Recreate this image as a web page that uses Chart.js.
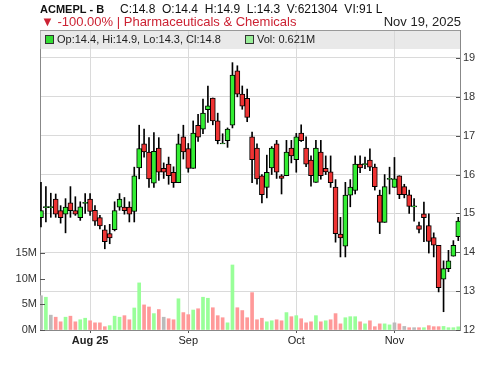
<!DOCTYPE html>
<html>
<head>
<meta charset="utf-8">
<script src="https://cdn.jsdelivr.net/npm/chart.js@4.4.0/dist/chart.umd.min.js"></script>
<style>
  body { margin: 0; background: #fff; }
  canvas { display: block; }
</style>
</head>
<body>
<canvas id="chart" width="500" height="366"></canvas>
<script>
// quote header
const ticker = 'ACMEPL - B';
const quoteLine = 'C:14.8  O:14.4  H:14.9  L:14.3  V:621304  VI:91 L';
const changeLine = '\u25BC -100.00% | Pharmaceuticals & Chemicals';
const quoteDate = 'Nov 19, 2025';
const legendOhlc = 'Op:14.4, Hi:14.9, Lo:14.3, Cl:14.8';
const legendVol = 'Vol: 0.621M';

// x axis: bar index of each month start
const monthTickIndex = [10, 30, 52, 72];
const monthTickLabels = ['Aug 25', 'Sep', 'Oct', 'Nov'];
const priceTicks = [12, 13, 14, 15, 16, 17, 18, 19];
const volTicks = [0, 5, 10, 15];

const open = [
  14.89, 15.16, 15.16, 15.37, 15.07, 14.98, 15.27, 15.07, 14.89, 15.27,
  15.37, 15.08, 14.89, 14.58, 14.48, 14.58, 15.16, 15.16, 15.16, 15.05,
  16.17, 16.79, 16.58, 15.78, 16.68, 16.16, 16.27, 16.06, 15.79, 16.97,
  16.67, 16.16, 17.27, 17.17, 17.67, 17.97, 17.38, 16.80, 16.87, 17.27,
  18.67, 18.07, 17.96, 16.97, 16.68, 15.97, 15.67, 16.17, 16.79, 15.97,
  15.97, 16.68, 16.38, 17.07, 16.68, 16.37, 15.80, 16.58, 16.16, 16.07,
  15.68, 14.47, 14.16, 15.47, 15.59, 16.27, 16.27, 16.37, 16.19, 15.47,
  14.77, 15.89, 15.67, 15.97, 15.69, 15.48, 15.18, 14.69, 14.99, 14.69,
  14.38, 14.18, 13.31, 13.58, 13.90, 14.40
];
const high = [
  15.80, 15.69, 15.52, 15.50, 15.20, 15.38, 15.69, 15.43, 15.30, 15.51,
  15.51, 15.20, 14.95, 14.69, 14.72, 15.30, 15.51, 15.41, 15.30, 16.19,
  17.27, 17.17, 16.95, 17.08, 16.95, 16.30, 16.45, 16.20, 17.04, 17.27,
  16.80, 17.38, 17.55, 17.94, 18.28, 17.97, 17.58, 17.05, 17.20, 18.88,
  18.80, 18.28, 18.20, 17.09, 16.79, 16.00, 16.50, 16.72, 16.88, 16.00,
  16.88, 16.88, 17.06, 17.28, 16.97, 16.48, 16.88, 16.88, 16.48, 16.48,
  15.87, 14.90, 15.80, 15.87, 16.48, 16.48, 16.45, 16.66, 16.27, 15.60,
  16.00, 16.19, 16.44, 15.97, 15.75, 15.60, 15.38, 14.78, 15.29, 14.99,
  14.50, 14.18, 13.78, 14.05, 14.30, 14.90
];
const low = [
  14.65, 14.78, 14.90, 14.90, 14.75, 14.50, 14.90, 14.95, 14.82, 15.00,
  14.95, 14.69, 14.60, 14.09, 14.22, 14.55, 15.08, 14.98, 14.78, 14.78,
  15.89, 16.45, 15.67, 15.67, 15.85, 15.90, 15.75, 15.67, 15.79, 16.40,
  16.06, 16.16, 16.85, 17.05, 17.34, 17.28, 16.79, 16.80, 16.70, 17.20,
  18.00, 17.68, 17.36, 15.79, 15.75, 15.27, 15.40, 16.00, 15.90, 15.50,
  15.97, 16.30, 16.06, 16.85, 16.20, 15.70, 15.80, 15.88, 16.00, 15.67,
  14.26, 13.88, 13.88, 15.17, 15.50, 16.05, 16.15, 16.10, 15.60, 14.48,
  14.77, 15.50, 15.67, 15.38, 15.40, 15.00, 14.80, 14.50, 14.27, 13.98,
  13.88, 12.98, 12.47, 13.50, 13.90, 14.30
];
const close = [
  15.07, 15.16, 15.16, 14.98, 14.89, 15.16, 15.07, 14.98, 15.17, 15.27,
  15.05, 14.80, 14.68, 14.27, 14.37, 15.07, 15.37, 15.07, 14.98, 15.97,
  16.67, 16.58, 15.89, 16.60, 16.06, 16.06, 15.97, 15.79, 16.79, 16.58,
  16.16, 17.07, 16.96, 17.58, 17.77, 17.38, 16.87, 16.80, 17.17, 18.56,
  18.07, 17.76, 17.47, 16.38, 15.89, 15.48, 16.06, 16.68, 16.06, 15.90,
  16.58, 16.48, 16.97, 16.87, 16.27, 15.97, 16.68, 15.97, 16.07, 15.79,
  14.48, 14.37, 15.47, 15.68, 16.27, 16.17, 16.27, 16.19, 15.69, 14.77,
  15.69, 15.89, 15.89, 15.48, 15.48, 15.18, 15.18, 14.59, 14.89, 14.28,
  14.18, 13.09, 13.58, 13.78, 14.18, 14.80
];
// volume in millions
const volume = [
  6.7, 6.4, 2.9, 2.5, 1.6, 2.5, 2.7, 1.6, 2.0, 2.3,
  1.8, 1.4, 1.4, 0.65, 0.85, 2.7, 2.5, 2.8, 2.0, 4.3,
  9.2, 4.9, 4.5, 3.2, 4.0, 2.5, 2.2, 2.0, 6.1, 3.4,
  3.0, 3.9, 4.15, 6.4, 6.2, 4.35, 2.8, 2.4, 1.4, 12.7,
  4.35, 3.8, 2.4, 7.3, 2.0, 2.3, 1.6, 1.8, 2.0, 1.8,
  3.4, 2.6, 2.8, 2.2, 1.4, 1.6, 2.8, 1.6, 1.8, 2.0,
  3.2, 1.2, 2.4, 2.6, 2.6, 1.6, 1.2, 1.8, 0.65, 1.2,
  1.2, 1.0, 1.4, 1.2, 0.7, 0.45, 0.45, 0.45, 0.45, 0.85,
  0.65, 0.65, 0.7, 0.45, 0.45, 0.621
];

const UP = '#33ee33', DOWN = '#ee3333';
const VOL_UP = '#99ff99', VOL_DOWN = '#ff9999', VOL_FLAT = '#bbbbbb';
const FONT = '"Liberation Sans", Arial, sans-serif';

Chart.defaults.font.family = FONT;
Chart.defaults.font.size = 11;
Chart.defaults.color = '#333';

const idx = close.map((_, i) => i);

// doji get a hairline body so they still show as a dash
const bodies = idx.map(i => {
  let a = Math.min(open[i], close[i]), b = Math.max(open[i], close[i]);
  if (b - a < 0.02) { a -= 0.013; b += 0.013; }
  return { x: i, y: [a, b] };
});
const volColors = idx.map(i => {
  if (i === 0 || close[i] === close[i - 1]) return VOL_FLAT;
  return close[i] > close[i - 1] ? VOL_UP : VOL_DOWN;
});

const overlay = {
  id: 'overlay',
  beforeDatasetsDraw(chart) {
    const { ctx, chartArea: a } = chart;
    ctx.save();
    // legend strip
    ctx.fillStyle = 'rgba(215,215,215,0.55)';
    ctx.fillRect(a.left, a.top, a.right - a.left, 19);
    ctx.strokeStyle = '#333';
    ctx.lineWidth = 1;
    ctx.fillStyle = '#33dd33';
    ctx.fillRect(45.5, 35.5, 8, 8);
    ctx.strokeRect(45.5, 35.5, 8, 8);
    ctx.fillStyle = '#99ee99';
    ctx.fillRect(245.5, 35.5, 8, 8);
    ctx.strokeRect(245.5, 35.5, 8, 8);
    ctx.fillStyle = '#222';
    ctx.font = '11px ' + FONT;
    ctx.textBaseline = 'middle';
    ctx.fillText(legendOhlc, 57, 40);
    ctx.fillText(legendVol, 257, 40);
    ctx.restore();
  },
  afterDraw(chart) {
    const { ctx, chartArea: a } = chart;
    ctx.save();
    // top frame line
    ctx.strokeStyle = '#999';
    ctx.lineWidth = 1;
    ctx.beginPath();
    ctx.moveTo(a.left, a.top + 0.5);
    ctx.lineTo(a.right, a.top + 0.5);
    ctx.stroke();
    // inward tick marks on both value axes
    ctx.strokeStyle = '#555';
    const py = chart.scales.y, vy = chart.scales.yVol;
    py.ticks.forEach(t => {
      const y = Math.round(py.getPixelForValue(t.value)) + 0.5;
      ctx.beginPath(); ctx.moveTo(a.right - 4, y); ctx.lineTo(a.right, y); ctx.stroke();
    });
    vy.ticks.forEach(t => {
      const y = Math.round(vy.getPixelForValue(t.value)) + 0.5;
      ctx.beginPath(); ctx.moveTo(a.left, y); ctx.lineTo(a.left + 5, y); ctx.stroke();
    });
    // header
    ctx.textBaseline = 'alphabetic';
    ctx.fillStyle = '#111';
    ctx.font = 'bold 11px ' + FONT;
    ctx.fillText(ticker, 40, 13);
    ctx.font = '12px ' + FONT;
    ctx.fillText(quoteLine, 120, 13);
    ctx.font = '13px ' + FONT;
    ctx.fillStyle = '#cc2233';
    ctx.fillText(changeLine, 41, 26);
    ctx.fillStyle = '#222';
    ctx.textAlign = 'right';
    ctx.fillText(quoteDate, 461, 26);
    ctx.restore();
  }
};

new Chart(document.getElementById('chart').getContext('2d'), {
  type: 'bar',
  data: {
    datasets: [{
      label: 'body',
      data: bodies,
      backgroundColor: idx.map(i => close[i] >= open[i] ? UP : DOWN),
      borderColor: '#000',
      borderWidth: 1,
      borderSkipped: false,
      barThickness: 5,
      grouped: false,
      yAxisID: 'y',
      order: 1
    }, {
      label: 'wick',
      data: idx.map(i => ({ x: i, y: [low[i], high[i]] })),
      backgroundColor: '#000',
      barThickness: 1,
      grouped: false,
      yAxisID: 'y',
      order: 2
    }, {
      label: 'volume',
      data: idx.map(i => ({ x: i, y: volume[i] })),
      backgroundColor: volColors,
      barThickness: 3,
      grouped: false,
      yAxisID: 'yVol',
      order: 3
    }]
  },
  options: {
    responsive: false,
    animation: false,
    layout: { padding: { top: 30, left: 0, right: 0, bottom: 0 } },
    plugins: { legend: { display: false }, tooltip: { enabled: false } },
    scales: {
      x: {
        type: 'linear',
        offset: false,
        min: -0.2,
        max: 85.35,
        afterBuildTicks: axis => { axis.ticks = monthTickIndex.map(v => ({ value: v })); },
        afterFit: axis => { axis.height = 36; },
        grid: { offset: false, color: '#dadada', tickLength: 3, tickColor: '#555' },
        border: { color: '#888' },
        ticks: {
          padding: 1,
          color: '#222',
          font: ctx => ({ size: 11, weight: ctx.index === 0 ? 'bold' : 'normal' }),
          callback: v => monthTickLabels[monthTickIndex.indexOf(v)]
        }
      },
      y: {
        position: 'right',
        min: 12,
        max: 19.72,
        afterBuildTicks: axis => { axis.ticks = priceTicks.map(v => ({ value: v })); },
        afterFit: axis => { axis.width = 40; },
        grid: { color: '#dadada', drawTicks: false },
        border: { color: '#888' },
        ticks: { padding: 3, color: '#333' }
      },
      yVol: {
        position: 'left',
        min: 0,
        max: 58.6,
        afterBuildTicks: axis => { axis.ticks = volTicks.map(v => ({ value: v })); },
        afterFit: axis => { axis.width = 40; },
        grid: { drawOnChartArea: false, drawTicks: false },
        border: { color: '#888' },
        ticks: { padding: 3, color: '#333', callback: v => v + 'M' }
      }
    }
  },
  plugins: [overlay]
});
</script>
</body>
</html>
